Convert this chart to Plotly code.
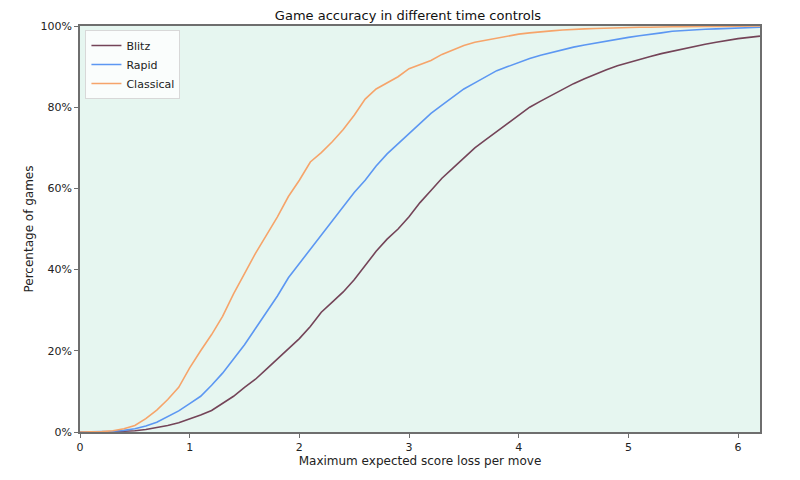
import plotly.graph_objects as go

# maximum expected score loss per move
x_loss = [round(i * 0.1, 1) for i in range(63)]

# percentage of games (cumulative)
blitz = [0, 0, 0, 0.1, 0.2, 0.3, 0.6, 1.1, 1.6, 2.3,
         3.2, 4.2, 5.3, 7.0, 8.8, 11, 13, 15.5, 18, 20.5,
         23, 26, 29.5, 32, 34.5, 37.5, 41, 44.5, 47.5, 50,
         53, 56.5, 59.5, 62.5, 65, 67.5, 70, 72, 74, 76,
         78, 80, 81.5, 83, 84.5, 85.8, 87, 88.2, 89.2, 90.2,
         91, 91.8, 92.5, 93.2, 93.8, 94.4, 95, 95.5, 96, 96.5,
         96.9, 97.2, 97.5]
rapid = [0, 0, 0.1, 0.2, 0.4, 0.8, 1.5, 2.4, 3.8, 5.2,
         7.0, 8.8, 11.5, 14.5, 18, 21.5, 25.5, 29.5, 33.5, 38,
         41.5, 45, 48.5, 52, 55.5, 59, 62, 65.5, 68.5, 71,
         73.5, 76, 78.5, 80.5, 82.5, 84.5, 86, 87.5, 89, 90,
         91, 92, 92.8, 93.5, 94.2, 94.8, 95.3, 95.8, 96.3, 96.7,
         97.2, 97.6, 97.9, 98.3, 98.7, 98.9, 99.1, 99.2, 99.3, 99.4,
         99.5, 99.6, 99.7]
classical = [0, 0, 0.1, 0.3, 0.8, 1.6, 3.3, 5.4, 8.0, 11.0,
             15.8, 20, 24, 28.5, 34, 39, 44, 48.5, 53, 58,
             62, 66.5, 68.8, 71.5, 74.5, 78, 82, 84.5, 86, 87.5,
             89.5, 90.5, 91.5, 93, 94.2, 95.2, 96, 96.5, 97, 97.5,
             98, 98.3, 98.6, 98.8, 99, 99.2, 99.3, 99.4, 99.5, 99.6,
             99.6, 99.7, 99.7, 99.8, 99.8, 99.8, 99.9, 99.9, 99.9, 99.9,
             100, 100, 100]

x_ticks = [0, 1, 2, 3, 4, 5, 6]
y_ticks = [0, 20, 40, 60, 80, 100]
y_tick_labels = ["0%", "20%", "40%", "60%", "80%", "100%"]

font = "DejaVu Sans, Liberation Sans, sans-serif"

fig = go.Figure()
fig.add_trace(go.Scatter(x=x_loss, y=blitz, mode="lines", name="Blitz",
                         line=dict(color="#744458", width=1.6)))
fig.add_trace(go.Scatter(x=x_loss, y=rapid, mode="lines", name="Rapid",
                         line=dict(color="#5c97f2", width=1.6)))
fig.add_trace(go.Scatter(x=x_loss, y=classical, mode="lines", name="Classical",
                         line=dict(color="#f6a46a", width=1.6)))

fig.update_layout(
    width=800, height=480,
    margin=dict(l=72, r=48, t=18, b=56),
    paper_bgcolor="white",
    plot_bgcolor="#e6f6f0",
    font=dict(family=font, size=11, color="#222"),
    title=dict(text="Game accuracy in different time controls", x=0.5, xanchor="center",
               y=1 - 7 / 480, yanchor="middle", font=dict(size=13, color="#111")),
    legend=dict(x=0.008, y=0.99, xanchor="left", yanchor="top",
                bgcolor="rgba(255,255,255,0.8)", bordercolor="#d8d8d8", borderwidth=1,
                font=dict(size=11), tracegroupgap=0, itemwidth=30),
    showlegend=True,
)
fig.update_xaxes(
    range=[0, 6.2], tickvals=x_ticks, showgrid=False, zeroline=False,
    showline=True, mirror=True, linecolor="#6e6e6e", linewidth=1.5,
    ticks="outside", ticklen=4, tickcolor="#6e6e6e", tickfont=dict(size=11),
    title=dict(text="Maximum expected score loss per move", font=dict(size=12), standoff=3),
)
fig.update_yaxes(
    range=[0, 100], tickvals=y_ticks, ticktext=y_tick_labels, showgrid=False,
    zeroline=False, showline=True, mirror=True, linecolor="#6e6e6e", linewidth=1.5,
    ticks="outside", ticklen=4, tickcolor="#6e6e6e", tickfont=dict(size=11),
    title=dict(text="Percentage of games", font=dict(size=12), standoff=4),
)

fig.write_html("out.html")
